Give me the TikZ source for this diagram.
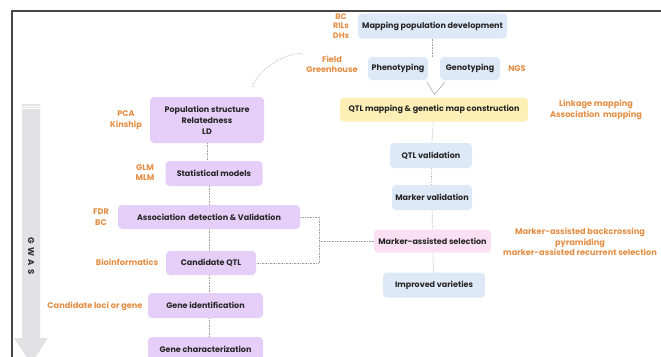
\documentclass[tikz,border=0pt]{standalone}
\usepackage{fontspec}
\setmainfont{Poppins}
\usetikzlibrary{positioning}

\definecolor{boxpurple}{RGB}{229,206,247}
\definecolor{boxblue}{RGB}{222,233,248}
\definecolor{boxyellow}{RGB}{253,240,182}
\definecolor{boxpink}{RGB}{251,224,244}
\definecolor{noteorange}{RGB}{228,141,68}
\definecolor{linkgray}{RGB}{160,160,160}
\definecolor{arrowgray}{RGB}{226,226,229}
\definecolor{framegray}{RGB}{70,70,70}

\begin{document}
\begin{tikzpicture}[
    x=1pt, y=-1pt,
    box/.style={rectangle, rounded corners=4pt, inner sep=1pt, align=center, font=\fontsize{8}{10.8}\selectfont\bfseries, text=black!85},
    purplebox/.style={box, fill=boxpurple},
    bluebox/.style={box, fill=boxblue},
    note/.style={align=center, inner sep=1pt, text=noteorange, font=\fontsize{8.2}{10.4}\selectfont\bfseries},
    link/.style={draw=linkgray, densely dotted, line width=0.6pt}
]
    \useasboundingbox (0,0) rectangle (661,356);

    % frame
    \draw[framegray, line width=1.3pt] (12,357) -- (12,11) -- (662,11);

    % GWAS arrow
    \fill[arrowgray] (22,104) -- (40,104) -- (40,338) -- (48,338) -- (31,364) -- (14,338) -- (22,338) -- cycle;
    \draw[white, line width=0.5pt] (22,106) -- (40,106) (22,108.5) -- (40,108.5);
    \node[rotate=-90, font=\fontsize{8.5}{9}\selectfont\bfseries, text=black!80] (gwas) at (31,256) {G\,\ W\,\ A\,\ S};

    % GWAS pipeline
    \node[purplebox, minimum width=114pt, minimum height=46pt] (popstruct) at (207,120) {Population structure\\Relatedness\\LD};
    \node[purplebox, minimum width=97pt, minimum height=25pt] (statmodels) at (214,173.5) {Statistical models};
    \node[purplebox, minimum width=182pt, minimum height=24pt] (assoc) at (209,217) {Association\ \,detection \& Validation};
    \node[purplebox, minimum width=90pt, minimum height=24pt] (candqtl) at (211,263) {Candidate QTL};
    \node[purplebox, minimum width=115pt, minimum height=25pt] (geneid) at (205.5,305.5) {Gene identification};
    \node[purplebox, minimum width=115pt, minimum height=25pt] (genechar) at (205.5,349.5) {Gene characterization};

    \node[note] (pca) at (126,120) {PCA\\Kinship};
    \node[note] (glm) at (145,172.5) {GLM\\MLM};
    \node[note] (fdr) at (101,217) {FDR\\BC};
    \node[note] (bioinf) at (127,262.5) {Bioinformatics};
    \node[note] (candloci) at (95,306) {Candidate loci or gene};

    % QTL mapping pipeline
    \node[bluebox, minimum width=149pt, minimum height=25pt] (mappop) at (432.5,26) {Mapping population development};
    \node[bluebox, minimum width=60pt, minimum height=23pt] (pheno) at (398,68.5) {Phenotyping};
    \node[bluebox, minimum width=60pt, minimum height=23pt] (geno) at (470,68.5) {Genotyping};
    \node[box, fill=boxyellow, minimum width=188pt, minimum height=24pt] (qtlmap) at (434,109.5) {QTL mapping \& genetic map construction};
    \node[bluebox, minimum width=82pt, minimum height=25pt] (qtlval) at (431,155.5) {QTL validation};
    \node[bluebox, minimum width=80pt, minimum height=25pt] (markval) at (432,197.5) {Marker validation};
    \node[box, fill=boxpink, minimum width=117pt, minimum height=23pt] (mas) at (432.5,241) {Marker-assisted selection};
    \node[bluebox, minimum width=102pt, minimum height=25pt] (improved) at (434,285) {Improved varieties};

    \node[note, font=\fontsize{8}{9.4}\selectfont\bfseries] (popnote) at (341,26) {BC\\RILs\\DHs};
    \node[note] (fieldnote) at (332,64) {Field\\Greenhouse};
    \node[note] (ngs) at (517,69) {NGS};
    \node[note] (mapnote) at (596,110) {Linkage mapping\\Association\ \,mapping};
    \node[note] (masnote) at (580,242) {Marker-assisted backcrossing\\pyramiding\\marker-assisted recurrent selection};

    % connectors
    \draw[link] (popstruct) -- (statmodels.north -| popstruct);
    \draw[link] (statmodels.south -| assoc) -- (assoc);
    \draw[link] (assoc) -- (candqtl.north -| assoc);
    \draw[link] (candqtl.south -| assoc) -- (geneid.north -| assoc);
    \draw[link] (geneid.south -| assoc) -- (genechar.north -| assoc);

    \draw[link] (mappop) -- (mappop |- pheno.north);
    \draw[linkgray, line width=0.5pt] (427,82) -- (434.5,94.5) -- (445,82);
    \draw[link] (qtlmap) -- (qtlval);
    \draw[link] (qtlval) -- (markval);
    \draw[link] (markval) -- (mas);
    \draw[link] (mas) -- (improved);

    \coordinate (join) at (319,241);
    \draw[link] (assoc.east) -| (join) |- (candqtl.east);
    \draw[link] (join) -- (mas.west);

    \draw[link] (popstruct.north east) ++(-12,-10) .. controls (262,62) and (298,50) .. ([xshift=-2pt]fieldnote.north west);
\end{tikzpicture}
\end{document}
